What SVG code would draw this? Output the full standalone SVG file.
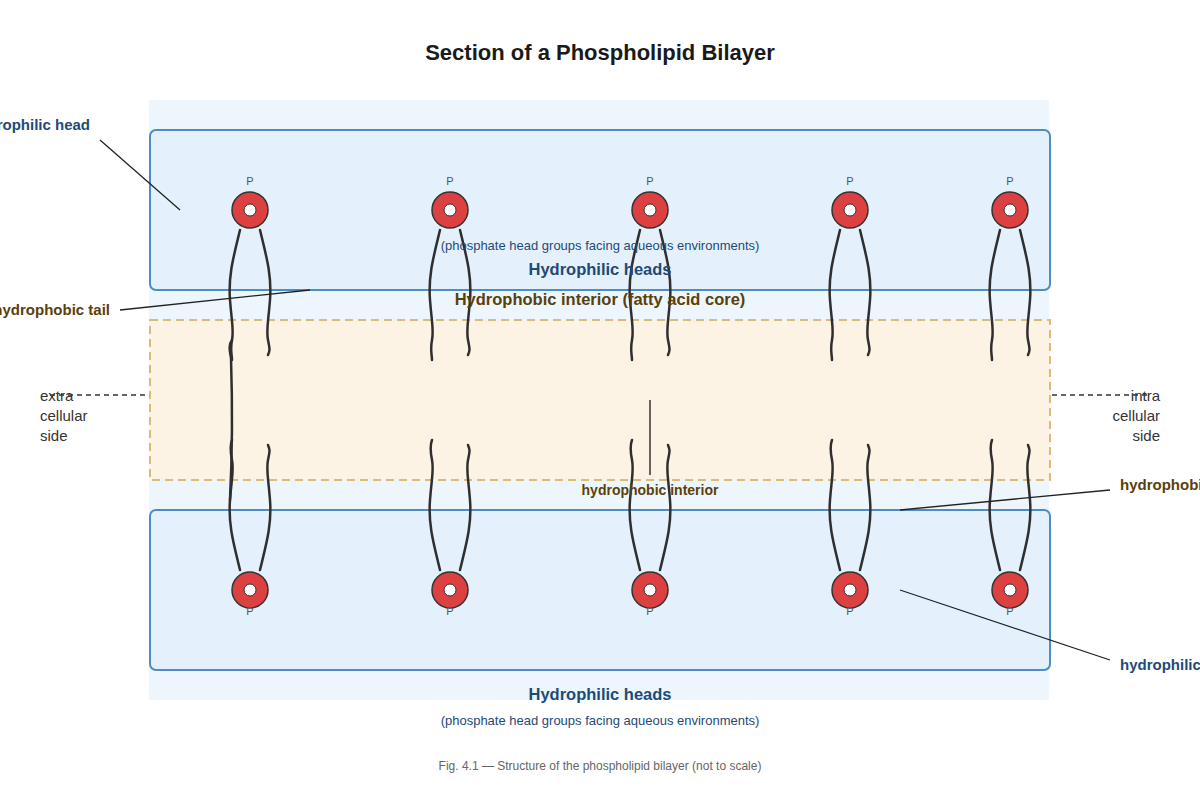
<svg xmlns="http://www.w3.org/2000/svg" width="1200" height="800" viewBox="0 0 1200 800">
<style>
text{font-family:"Liberation Sans",Arial,sans-serif}
.box{fill:#e4f1fc;stroke:#4d8cc4;stroke-width:2}
.tail{fill:none;stroke:#2f2f2f;stroke-width:2.5;stroke-linecap:round}
.head{fill:#dd4040;stroke:#333;stroke-width:1.5}
.hole{fill:#fff;stroke:#333;stroke-width:1}
.p{font-size:11px;fill:#555;text-anchor:middle}
.blue{fill:#1f4a78;font-weight:bold;font-size:15px}
.brown{fill:#5a400c;font-weight:bold;font-size:15px}
.lead{stroke:#222;stroke-width:1.3;fill:none}
</style>
<defs>
<g id="lipT">
<path class="tail" d="M-10,20 C-16,45 -22,65 -20,90 S-16,120 -18,130 S-18,145 -18,150"/>
<path class="tail" d="M10,20 C16,45 22,65 20,90 S16,120 18,130 S20,140 18,145"/>
<circle class="head" r="18"/><circle class="hole" r="6"/>
<text class="p" y="-25">P</text>
</g>
<g id="lipB">
<path class="tail" d="M-10,-20 C-16,-45 -22,-65 -20,-90 S-16,-120 -18,-130 S-20,-145 -18,-150"/>
<path class="tail" d="M10,-20 C16,-45 22,-65 20,-90 S16,-120 18,-130 S20,-140 18,-145"/>
<circle class="head" r="18"/><circle class="hole" r="6"/>
<text class="p" y="25">P</text>
</g>
</defs>
<rect width="1200" height="800" fill="#fff"/>
<text x="600" y="60" text-anchor="middle" font-size="22" font-weight="bold" fill="#1a1a1a">Section of a Phospholipid Bilayer</text>
<rect x="149" y="100" width="900" height="600" fill="#eef6fd"/>
<g id="upper-layer"><rect class="box" x="150" y="130" width="900" height="160" rx="6"/></g>
<g id="core"><rect x="150" y="320" width="900" height="160" fill="#fdf3e5" stroke="#dbbb78" stroke-width="2" stroke-dasharray="8,5"/></g>
<g id="lower-layer"><rect class="box" x="150" y="510" width="900" height="160" rx="6"/></g>
<g id="lipids">
<use href="#lipT" x="250" y="210"/><use href="#lipT" x="450" y="210"/><use href="#lipT" x="650" y="210"/><use href="#lipT" x="850" y="210"/><use href="#lipT" x="1010" y="210"/>
<use href="#lipB" x="250" y="590"/><use href="#lipB" x="450" y="590"/><use href="#lipB" x="650" y="590"/><use href="#lipB" x="850" y="590"/><use href="#lipB" x="1010" y="590"/>
<path class="tail" d="M232,340 C228,345 230,352 231,358 C233,420 231,480 230,500"/>
</g>
<g id="connectors">
<line class="lead" x1="100" y1="140" x2="180" y2="210"/>
<line class="lead" x1="120" y1="310" x2="310" y2="290"/>
<line class="lead" x1="900" y1="510" x2="1110" y2="490"/>
<line class="lead" x1="900" y1="590" x2="1110" y2="660"/>
<line x1="650" y1="400" x2="650" y2="475" stroke="#333" stroke-width="1.5"/>
<line x1="50" y1="395" x2="148" y2="395" stroke="#333" stroke-width="1.5" stroke-dasharray="5,4"/>
<line x1="1052" y1="395" x2="1150" y2="395" stroke="#333" stroke-width="1.5" stroke-dasharray="5,4"/>
</g>
<g id="labels">
<text x="600" y="250" text-anchor="middle" font-size="13" fill="#1f4a78">(phosphate head groups facing aqueous environments)</text>
<text x="600" y="275" text-anchor="middle" class="blue" style="font-size:16.5px">Hydrophilic heads</text>
<text x="600" y="305" text-anchor="middle" class="brown" style="font-size:16.5px">Hydrophobic interior (fatty acid core)</text>
<text x="650" y="495" text-anchor="middle" class="brown" style="font-size:14px">hydrophobic interior</text>
<text x="600" y="700" text-anchor="middle" class="blue" style="font-size:16.5px">Hydrophilic heads</text>
<text x="600" y="725" text-anchor="middle" font-size="13" fill="#1f4a78">(phosphate head groups facing aqueous environments)</text>
<text x="600" y="770" text-anchor="middle" font-size="12" fill="#666">Fig. 4.1 — Structure of the phospholipid bilayer (not to scale)</text>
<text x="90" y="130" text-anchor="end" class="blue">hydrophilic head</text>
<text x="110" y="315" text-anchor="end" class="brown">hydrophobic tail</text>
<text x="1120" y="490" class="brown">hydrophobic tail</text>
<text x="1120" y="670" class="blue">hydrophilic head</text>
<g font-size="15" fill="#333"><text x="40" y="401">extra</text><text x="40" y="421">cellular</text><text x="40" y="441">side</text>
<text x="1160" y="401" text-anchor="end">intra</text><text x="1160" y="421" text-anchor="end">cellular</text><text x="1160" y="441" text-anchor="end">side</text></g>
</g>
</svg>
